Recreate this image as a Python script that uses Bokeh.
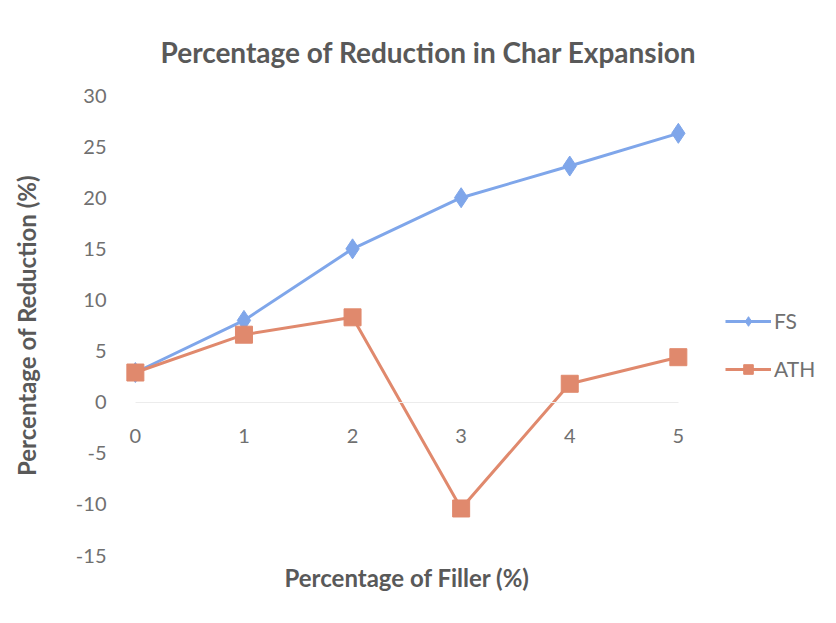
from bokeh.plotting import figure
from bokeh.models import (Range1d, FixedTicker, LinearAxis, Legend, LegendItem, Title,
                          PrintfTickFormatter)
from bokeh.embed import file_html
from bokeh.resources import INLINE

filler = [0, 1, 2, 3, 4, 5]
fs = [2.9, 8.0, 15.0, 20.0, 23.1, 26.3]
ath = [2.9, 6.6, 8.3, -10.4, 1.8, 4.4]
y_ticks = [-15, -10, -5, 0, 5, 10, 15, 20, 25, 30]

FONT = "Lato"
GRAY = "#595959"
TICK_GRAY = "#707070"
FS_COLOR = "#7fa6ea"
ATH_COLOR = "#e0896d"

p = figure(width=820, height=607, output_backend="svg", toolbar_location=None,
           x_range=Range1d(-0.1, 6.3), y_range=Range1d(-15, 30),
           x_axis_type=None, y_axis_type=None,
           min_border_left=124, min_border_right=1, min_border_top=95, min_border_bottom=52)
p.outline_line_color = None
p.background_fill_color = "white"
p.border_fill_color = "white"

p.title.text = "Percentage of Reduction in Char Expansion"
p.title.text_font = FONT
p.title.text_font_size = "28px"
p.title.text_font_style = "bold"
p.title.text_color = GRAY
p.title.align = "left"
p.title.offset = 36
p.title.standoff = 54

# y axis
yaxis = LinearAxis(ticker=FixedTicker(ticks=y_ticks), formatter=PrintfTickFormatter(format="%d"))
yaxis.axis_line_color = None
yaxis.major_tick_line_color = None
yaxis.minor_tick_line_color = None
yaxis.major_label_text_font = FONT
yaxis.major_label_text_font_size = "20px"
yaxis.major_label_text_color = TICK_GRAY
yaxis.major_label_standoff = 12
yaxis.axis_label = "Percentage of Reduction (%)"
yaxis.axis_label_text_font = FONT
yaxis.axis_label_text_font_size = "24px"
yaxis.axis_label_text_font_style = "bold"
yaxis.axis_label_text_color = GRAY
yaxis.axis_label_standoff = 32
p.add_layout(yaxis, "left")

# x axis crossing at y=0
xaxis = LinearAxis(ticker=FixedTicker(ticks=filler), fixed_location=0, bounds=(0, 5),
                   formatter=PrintfTickFormatter(format="%d"))
xaxis.axis_line_color = "#ececec"
xaxis.major_tick_line_color = None
xaxis.minor_tick_line_color = None
xaxis.major_label_text_font = FONT
xaxis.major_label_text_font_size = "20px"
xaxis.major_label_text_color = TICK_GRAY
xaxis.major_label_standoff = 21
p.add_layout(xaxis, "below")

xt = Title(text="Percentage of Filler (%)", align="left", text_font=FONT,
           text_font_size="24px", text_font_style="bold", text_color=GRAY, offset=160)
p.add_layout(xt, "below")

p.ygrid.ticker = FixedTicker(ticks=y_ticks)
p.ygrid.bounds = (0, 5)
p.ygrid.grid_line_color = "#efefef"
p.xgrid.ticker = FixedTicker(ticks=[0])
p.xgrid.bounds = (-15, 30)
p.xgrid.grid_line_color = "#ececec"

r1 = p.line(filler, fs, line_color=FS_COLOR, line_width=3)
m1 = p.scatter(filler, fs, marker="diamond", size=20, color=FS_COLOR)
r2 = p.line(filler, ath, line_color=ATH_COLOR, line_width=3)
m2 = p.scatter(filler, ath, marker="square", size=17, color=ATH_COLOR)

legend = Legend(items=[LegendItem(label="FS", renderers=[r1, m1]),
                       LegendItem(label="ATH", renderers=[r2, m2])],
                location=(601, 174), orientation="vertical")
legend.border_line_color = None
legend.background_fill_alpha = 0
legend.label_text_font = FONT
legend.label_text_font_size = "21px"
legend.label_text_color = TICK_GRAY
legend.glyph_width = 46
legend.glyph_height = 24
legend.label_height = 24
legend.spacing = 23
legend.padding = 0
legend.margin = 0
legend.label_standoff = 3
p.add_layout(legend, "center")

open("out.html", "w").write(file_html(p, INLINE))
